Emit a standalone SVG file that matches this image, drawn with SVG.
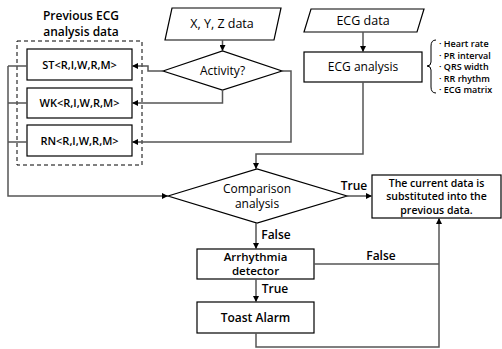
<svg xmlns="http://www.w3.org/2000/svg" width="502" height="349" viewBox="0 0 502 349">
<style>
  .box{fill:#fff;stroke:#000;stroke-width:1.2}
  .ln{fill:none;stroke:#555;stroke-width:1.5}
  .t{font-family:"Open Sans","Noto Sans",sans-serif;font-size:12px;fill:#000;text-anchor:middle}
  .b{font-weight:600}
  .s{font-family:"Open Sans","Noto Sans",sans-serif;font-size:9px;font-weight:600;fill:#000}
</style>
<defs>
  <marker id="ah" viewBox="0 0 8 8" refX="8" refY="4" markerWidth="6" markerHeight="6" orient="auto" markerUnits="userSpaceOnUse">
    <path d="M0,0 L8,4 L0,8 z" fill="#000"/>
  </marker>
</defs>

<g id="prev-label">
  <text class="t b" x="81" y="20">Previous ECG</text>
  <text class="t b" x="81" y="36">analysis data</text>
  <rect x="17" y="41" width="125" height="124" fill="none" stroke="#000" stroke-width="1" stroke-dasharray="4,3"/>
</g>
<g id="st"><rect class="box" x="27" y="49" width="105" height="31"/><text class="t b" x="79.5" y="69" style="font-size:11px">ST&lt;R,I,W,R,M&gt;</text></g>
<g id="wk"><rect class="box" x="27" y="88" width="105" height="30"/><text class="t b" x="79.5" y="107" style="font-size:11px">WK&lt;R,I,W,R,M&gt;</text></g>
<g id="rn"><rect class="box" x="27" y="125" width="105" height="31"/><text class="t b" x="79.5" y="145" style="font-size:11px">RN&lt;R,I,W,R,M&gt;</text></g>

<g id="xyz"><polygon class="box" points="172,8 281,8 274,40 165,40"/><text class="t" x="222" y="28" style="font-size:12.5px">X, Y, Z data</text></g>
<g id="activity"><polygon class="box" points="163,71 222.5,51 282,71 222.5,90"/><text class="t" x="222.5" y="75">Activity?</text></g>

<g id="ecgdata"><polygon class="box" points="311,9 424,9 417,32 304,32"/><text class="t" x="363" y="25" style="font-size:12.5px">ECG data</text></g>
<g id="ecganalysis"><rect class="box" x="304" y="52" width="118" height="30"/><text class="t" x="363" y="71">ECG analysis</text></g>
<g id="params">
  <path d="M436,40 Q431,40 431,46 L431,62 Q431,66 427,66 Q431,66 431,70 L431,87 Q431,93 436,93" fill="none" stroke="#000" stroke-width="1"/>
  <text class="s" x="439" y="47">· Heart rate</text>
  <text class="s" x="439" y="58.5">· PR interval</text>
  <text class="s" x="439" y="70">· QRS width</text>
  <text class="s" x="439" y="81.5">· RR rhythm</text>
  <text class="s" x="439" y="93">· ECG matrix</text>
</g>

<g id="comparison"><polygon class="box" points="168,196 257,169 347,196 257,223"/><text class="t" x="257" y="193">Comparison</text><text class="t" x="257" y="208">analysis</text></g>
<g id="result"><rect class="box" x="372" y="175" width="129" height="43"/>
  <text class="t b" x="436.5" y="186.5" style="font-size:10.5px">The current data is</text>
  <text class="t b" x="436.5" y="200" style="font-size:10.5px">substituted into the</text>
  <text class="t b" x="436.5" y="213.5" style="font-size:10.5px">previous data.</text>
</g>
<g id="arrhythmia"><rect class="box" x="197" y="249" width="117" height="30"/><text class="t b" x="255.5" y="261" style="font-size:11.5px">Arrhythmia</text><text class="t b" x="255.5" y="275" style="font-size:11.5px">detector</text></g>
<g id="toast"><rect class="box" x="197" y="302" width="117" height="31"/><text class="t b" x="255.5" y="322">Toast Alarm</text></g>

<g id="connectors">
  <path class="ln" d="M222.5,40 L222.5,51" marker-end="url(#ah)"/>
  <path class="ln" d="M163,71 L148,71 L148,66 L132,66" marker-end="url(#ah)"/>
  <path class="ln" d="M222.5,90 L222.5,103 L132,103" marker-end="url(#ah)"/>
  <path class="ln" d="M282,71 L291,71 L291,142 L132,142" marker-end="url(#ah)"/>
  <path class="ln" d="M27,66 L8,66 M27,103 L8,103 M27,142 L8,142"/>
  <path class="ln" d="M8,66 L8,196 L168,196" marker-end="url(#ah)"/>
  <path class="ln" d="M363,32 L363,52" marker-end="url(#ah)"/>
  <path class="ln" d="M363,82 L363,154 L256,154 L256,169" marker-end="url(#ah)"/>
  <path class="ln" d="M347,196 L372,196" marker-end="url(#ah)"/>
  <path class="ln" d="M256,223 L256,249" marker-end="url(#ah)"/>
  <path class="ln" d="M256,279 L256,302" marker-end="url(#ah)"/>
  <path class="ln" d="M314,264 L439,264"/>
  <path class="ln" d="M256,333 L256,347 L439,347 L439,218" marker-end="url(#ah)"/>
  <text class="t b" x="354" y="190">True</text>
  <text class="t b" x="276" y="239">False</text>
  <text class="t b" x="381" y="260">False</text>
  <text class="t b" x="275" y="293">True</text>
</g>
</svg>
